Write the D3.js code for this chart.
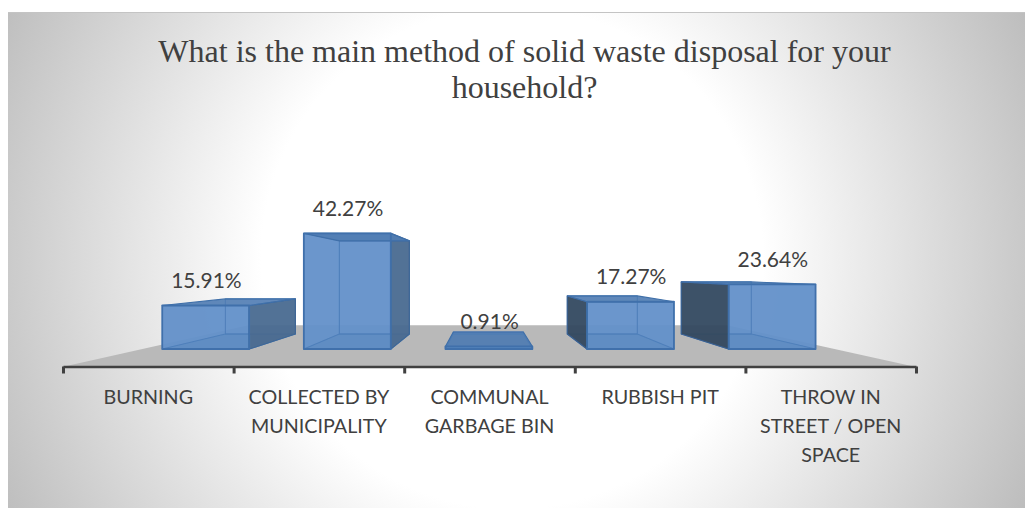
<!DOCTYPE html>
<html><head><meta charset="utf-8">
<style>html,body{margin:0;padding:0;background:#fff}svg{display:block}</style>
<script src="https://cdn.jsdelivr.net/npm/d3@7"></script></head>
<body><svg id="c" width="1025" height="508"></svg>
<script>
const titleLines = ["What is the main method of solid waste disposal for your", "household?"];
const categories = ["BURNING", "COLLECTED BY|MUNICIPALITY", "COMMUNAL|GARBAGE BIN", "RUBBISH PIT", "THROW IN|STREET / OPEN|SPACE"];
const values = [15.91, 42.27, 0.91, 17.27, 23.64];

const svg = d3.select("#c");
const defs = svg.append("defs");
const g = defs.append("radialGradient").attr("id","bg").attr("gradientUnits","userSpaceOnUse")
  .attr("cx",512).attr("cy",258).attr("r",570);
g.append("stop").attr("offset","0.44").attr("stop-color","#ffffff");
g.append("stop").attr("offset","1").attr("stop-color","#bdbdbd");
defs.append("filter").attr("id","soft").attr("x","-5%").attr("y","-5%").attr("width","110%").attr("height","110%")
  .append("feGaussianBlur").attr("stdDeviation",0.55);
svg.append("rect").attr("x",8).attr("y",12).attr("width",1017).attr("height",496).attr("fill","url(#bg)");
svg.append("line").attr("x1",8).attr("x2",1025).attr("y1",12.5).attr("y2",12.5).attr("stroke","#c4c4c4");

// perspective model
const vx = 486, vy = 272, axisY = 367, depthFloorBack = 0.56, depthBarFront = 0.83, depthBarBack = 0.805;
const project = (x, y, k) => [vx + (x - vx) * k, vy + (y - vy) * k];

const x = d3.scaleBand().domain(categories).range([63, 916]).paddingInner(0.386).paddingOuter(0.193);
const tickScale = d3.scaleLinear().domain([0, categories.length]).range([63, 916]);
const y = d3.scaleLinear().domain([0, 50]).range([349, 349 - 136.75]);

// floor
const floor = [[62, axisY], [916, axisY], project(916, axisY, depthFloorBack), project(62, axisY, depthFloorBack)];
svg.append("polygon").attr("points", floor.join(" ")).attr("fill", "#b9b9b9");

// bars
const rows = categories.map((c, i) => {
  const l = vx + (x(c) - vx) * depthBarFront, r = l + x.bandwidth() * depthBarFront;
  return {c, v: values[i], l, r, t: y(values[i]), b: y(0)};
});
const bars = svg.append("g").attr("filter","url(#soft)").selectAll("g").data(rows).join("g").attr("stroke-linejoin", "round");
const back = (p) => project(p[0], p[1], depthBarBack);
function face(sel, pts, fill, op, stroke, sw) {
  sel.append("polygon").attr("points", pts.join(" ")).attr("fill", fill).attr("fill-opacity", op)
    .attr("stroke", stroke).attr("stroke-width", sw);
}
bars.each(function(d) {
  const s = d3.select(this);
  const fl=[d.l,d.b], fr=[d.r,d.b], tl=[d.l,d.t], tr=[d.r,d.t];
  const bl=back(fl), br=back(fr), ul=back(tl), ur=back(tr);
  face(s,[fl,fr,tr,tl],"#6390c9",0.95,"none",0);
  face(s,[bl,br,ur,ul],"none",0,"#4f80bb",1.1);
  face(s,[fl,fr,br,bl],"#3f6ea8",0.16,"#4f80bb",1.1);
  if (d.l > vx) face(s,[fl,tl,ul,bl],"#34495f",0.95,"#3a5f8f",1.2);
  if (d.r < vx) face(s,[fr,tr,ur,br],"#4a6a90",0.95,"#3f6796",1.2);
  face(s,[tl,tr,ur,ul],"#4f7cb3",0.9,"#3f6fa9",1.2);
  face(s,[fl,fr,tr,tl],"none",0,"#3f70ab",1.8);
});

// axis
const axis = d3.axisBottom(tickScale).tickValues(d3.range(categories.length + 1)).tickFormat("").tickSize(7).tickSizeOuter(0);
const ax = svg.append("g").attr("transform", `translate(0,${axisY-0.5})`).call(axis);
ax.selectAll("path").attr("stroke", "#404040").attr("stroke-width", 2.5);
ax.selectAll("line").attr("stroke", "#404040").attr("stroke-width", 3);

// labels
svg.append("g").selectAll("text").data(rows).join("text")
  .attr("x", d => (d.l + d.r) / 2 + 0.7).attr("y", d => d.t - 17.5)
  .attr("text-anchor", "middle").attr("font-family", "Lato").attr("font-size", 21).attr("fill", "#404040")
  .text(d => d.v.toFixed(2) + "%");

svg.append("g").selectAll("text").data(categories).join("text")
  .attr("text-anchor", "middle").attr("font-family", "Lato").attr("font-size", 19.7).attr("fill", "#404040")
  .each(function(c, i) {
    const cx = tickScale(i + 0.5);
    d3.select(this).selectAll("tspan").data(c.split("|")).join("tspan")
      .attr("x", cx).attr("y", (t, j) => 404 + j * 29).text(t => t);
  });

// title
svg.append("g").selectAll("text").data(titleLines).join("text")
  .attr("x", 524.5).attr("y", (t, i) => 62 + i * 36)
  .attr("text-anchor", "middle").attr("font-family", "Liberation Serif").attr("font-size", 32).attr("fill", "#404040")
  .text(t => t);
</script></body></html>
